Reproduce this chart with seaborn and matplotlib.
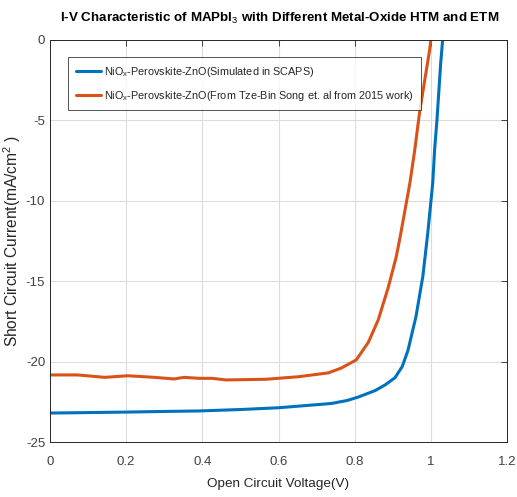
import matplotlib
matplotlib.use("Agg")
import matplotlib.pyplot as plt
import seaborn as sns
import pandas as pd

# Simulated (SCAPS) curve
v_sim = [0.0, 0.1, 0.2, 0.3, 0.39, 0.5, 0.6, 0.7, 0.74, 0.78, 0.81, 0.854, 0.88, 0.906,
         0.925, 0.94, 0.961, 0.979, 0.992, 1.005, 1.010, 1.016, 1.026, 1.031]
i_sim = [-23.2, -23.17, -23.14, -23.1, -23.07, -22.98, -22.87, -22.68, -22.6, -22.42, -22.2,
         -21.8, -21.45, -21.0, -20.3, -19.3, -17.2, -14.7, -12.0, -8.9, -6.8, -5.0, -1.4, 0.0]

# Experimental (Tze-Bin Song et al. 2015) curve
v_exp = [0.0, 0.013, 0.073, 0.144, 0.204, 0.274, 0.326, 0.352, 0.392, 0.426, 0.462, 0.566,
         0.653, 0.731, 0.765, 0.804, 0.836, 0.862, 0.888, 0.909, 0.919, 0.932, 0.945, 0.958,
         0.971, 0.984, 0.997, 1.0]
i_exp = [-20.83, -20.83, -20.83, -20.98, -20.88, -20.98, -21.08, -20.98, -21.04, -21.04, -21.14,
         -21.1, -20.94, -20.7, -20.4, -19.9, -18.8, -17.4, -15.4, -13.5, -12.3, -10.6, -8.9,
         -6.8, -4.4, -2.5, -0.6, 0.0]

label_sim = r"NiO$_{\rm x}$-Perovskite-ZnO(Simulated in SCAPS)"
label_exp = r"NiO$_{\rm x}$-Perovskite-ZnO(From Tze-Bin Song et. al from 2015 work)"

x_ticks = [0, 0.2, 0.4, 0.6, 0.8, 1.0, 1.2]
x_ticklabels = ["0", "0.2", "0.4", "0.6", "0.8", "1", "1.2"]
y_ticks = [-25, -20, -15, -10, -5, 0]
y_ticklabels = ["-25", "-20", "-15", "-10", "-5", "0"]

df = pd.concat([
    pd.DataFrame({"V": v_sim, "I": i_sim, "series": label_sim}),
    pd.DataFrame({"V": v_exp, "I": i_exp, "series": label_exp}),
])

sns.set_theme(style="white")
plt.rcParams["font.family"] = ["Liberation Sans", "DejaVu Sans"]
plt.rcParams["mathtext.fontset"] = "custom"
plt.rcParams["mathtext.rm"] = "Liberation Sans"
plt.rcParams["mathtext.bf"] = "Liberation Sans:bold"
plt.rcParams["axes.unicode_minus"] = False

fig = plt.figure(figsize=(5.17, 4.97), dpi=100)
ax = fig.add_axes([50 / 517, 1 - 442 / 497, 457 / 517, 402 / 497])

sns.lineplot(data=df, x="V", y="I", hue="series", sort=False, estimator=None,
             palette=["#0072BD", "#D95319"], linewidth=2.2, ax=ax)

ax.set_xlim(0, 1.2)
ax.set_ylim(-25, 0)
ax.set_xticks(x_ticks)
ax.set_xticklabels(x_ticklabels)
ax.set_yticks(y_ticks)
ax.set_yticklabels(y_ticklabels)
ax.grid(True, color="#dcdcdc", linewidth=0.8)
ax.tick_params(direction="in", length=4, labelsize=9.5, colors="#262626", top=True, right=True,
               labeltop=False, labelright=False, width=0.6)
ax.tick_params(axis="x", pad=10)
ax.tick_params(axis="y", pad=3.5)
for lab in ax.get_xticklabels() + ax.get_yticklabels():
    lab.set_color("#404040")
for s in ax.spines.values():
    s.set_visible(True)
    s.set_color("#262626")
    s.set_linewidth(0.7)

ax.set_xlabel("Open Circuit Voltage(V)", fontsize=9.7, color="#262626", labelpad=7)
ax.set_ylabel(r"Short Circuit Current(mA/cm$^2$ )", fontsize=11.2, color="#262626", labelpad=2)

title = r"I-V Characteristic of MAPbI$_3$ with Different Metal-Oxide HTM and ETM"
fig.text(280 / 517, 1 - 18 / 497, title, ha="center", va="center", fontsize=9.6,
         fontweight="bold", color="black")

leg = ax.legend(loc="upper left", bbox_to_anchor=(13 / 457, (442 - 52) / 402), fontsize=7.8,
                frameon=True, fancybox=False, edgecolor="#262626", handlelength=2.3,
                handletextpad=0.3, borderpad=0.7, labelspacing=0.9, title=None)
leg.get_frame().set_linewidth(0.7)

fig.savefig("out.png", dpi=100)
